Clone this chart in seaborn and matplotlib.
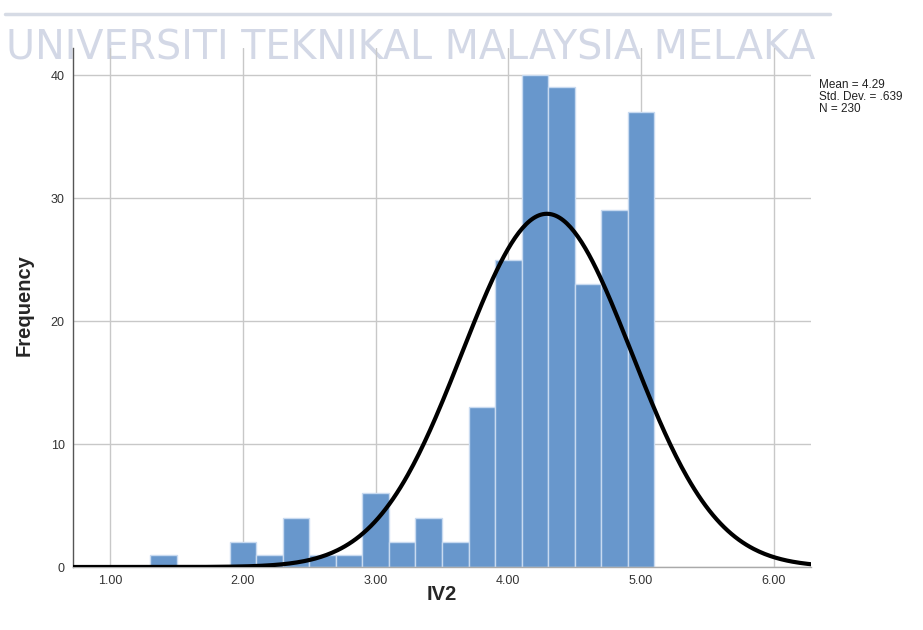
import numpy as np
import pandas as pd
import matplotlib
matplotlib.use("Agg")
import matplotlib.pyplot as plt
import seaborn as sns

# Histogram bins (width 0.2) and their frequencies for IV2
bin_centers = [1.4, 2.0, 2.2, 2.4, 2.6, 2.8, 3.0, 3.2, 3.4, 3.6, 3.8,
               4.0, 4.2, 4.4, 4.6, 4.8, 5.0]
frequencies = [1, 2, 1, 4, 1, 1, 6, 2, 4, 2, 13,
               25, 40, 39, 23, 29, 37]
bin_width = 0.2

# Summary statistics shown beside the chart
mean_val = 4.29
std_val = 0.639
n_val = 230

x_ticks = [1.0, 2.0, 3.0, 4.0, 5.0, 6.0]
x_tick_labels = ["1.00", "2.00", "3.00", "4.00", "5.00", "6.00"]
y_ticks = [0, 10, 20, 30, 40]

sns.set_theme(style="white")
plt.rcParams["font.family"] = ["Liberation Sans", "DejaVu Sans"]

fig = plt.figure(figsize=(9.23, 6.30), dpi=100)
fig.patch.set_facecolor("white")
ax = fig.add_axes([73 / 923, 1 - 567 / 630, (811 - 73) / 923, (567 - 48) / 630])
ax.set_facecolor("none")

# Banner text behind the chart
fig.add_artist(plt.Line2D([5 / 923, 830 / 923], [1 - 14 / 630, 1 - 14 / 630],
                          color="#d6dbe5", lw=2.5, zorder=-2))
fig.text(6 / 923, 1 - 60 / 630, "UNIVERSITI TEKNIKAL MALAYSIA MELAKA",
         fontsize=28.5, family=["DejaVu Sans"], color="#d3d8e6",
         ha="left", va="baseline", zorder=-2)

df = pd.DataFrame({"IV2": bin_centers, "count": frequencies})
lo = min(bin_centers) - bin_width / 2
hi = max(bin_centers) + bin_width / 2
sns.histplot(data=df, x="IV2", weights="count", binwidth=bin_width,
             binrange=(lo, hi), color="#6897cc", alpha=1.0,
             edgecolor="#c8daf0", linewidth=1.0, ax=ax, zorder=2)

# Fitted normal curve scaled to the histogram
xs = np.linspace(0.72, 6.28, 400)
ys = n_val * bin_width * np.exp(-0.5 * ((xs - mean_val) / std_val) ** 2) / (std_val * np.sqrt(2 * np.pi))
sns.lineplot(x=xs, y=ys, color="black", linewidth=3.0, ax=ax, zorder=3)

ax.set_xlim(0.72, 6.28)
ax.set_ylim(0, 42.2)
ax.set_xticks(x_ticks)
ax.set_xticklabels(x_tick_labels)
ax.set_yticks(y_ticks)
ax.grid(True, color="#c8c8c8", linewidth=1.0, zorder=0)
ax.set_axisbelow(True)
ax.tick_params(axis="both", length=0, labelsize=9, colors="#333333", pad=6)
for side in ["top", "right"]:
    ax.spines[side].set_visible(False)
ax.spines["left"].set_color("#555555")
ax.spines["left"].set_linewidth(1.0)
ax.spines["bottom"].set_color("#aaaaaa")
ax.spines["bottom"].set_linewidth(1.0)

ax.set_xlabel("IV2", fontsize=14.5, fontweight="bold")
ax.set_ylabel("Frequency", fontsize=14.5, fontweight="bold")
ax.xaxis.set_label_coords(0.5, (567 - 585) / 519)
ax.yaxis.set_label_coords((34 - 73) / 738, 0.505)

fig.text(819 / 923, 1 - 97 / 630,
         f"Mean = {mean_val:.2f}\nStd. Dev. = {str(std_val)[1:]}\nN = {n_val}",
         fontsize=8.5, color="#222222", ha="left", va="center", linespacing=1.0)

fig.savefig("out.png", dpi=100, facecolor="white")
